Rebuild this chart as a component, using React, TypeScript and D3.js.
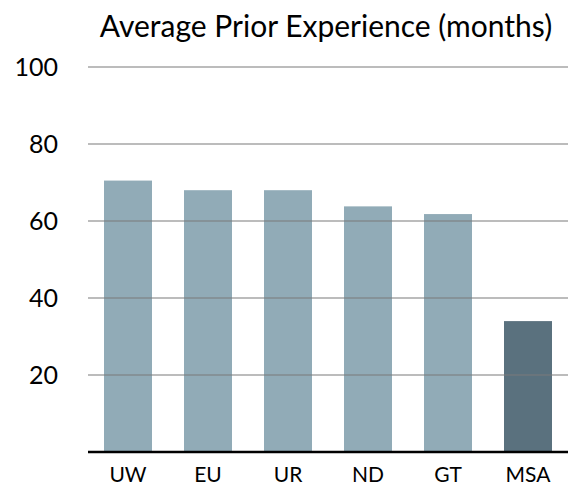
import { useEffect, useRef } from 'react';
import * as d3 from 'd3';

const categories = ['UW', 'EU', 'UR', 'ND', 'GT', 'MSA'];
const values = [70.5, 68, 68, 63.8, 61.8, 34];
const highlight = ['MSA'];
const yTicks = [20, 40, 60, 80, 100];

export default function App() {
  const svgRef = useRef<SVGSVGElement | null>(null);

  useEffect(() => {
    const el = svgRef.current;
    if (!el) return;
    const width = 568;
    const height = 489;
    const font = 'Lato, "Open Sans", sans-serif';

    const svg = d3.select(el);
    svg.selectAll('*').remove();

    const x = d3.scaleBand<string>()
      .domain(categories)
      .range([88, 568])
      .paddingInner(0.4)
      .paddingOuter(0.2);

    const y = d3.scaleLinear().domain([0, 100]).range([452, 67]);

    // Bars
    svg.append('g')
      .selectAll('rect')
      .data(categories)
      .join('rect')
      .attr('x', (d) => x(d)!)
      .attr('width', x.bandwidth())
      .attr('y', (d, i) => y(values[i]))
      .attr('height', (d, i) => y(0) - y(values[i]))
      .attr('fill', (d) => (highlight.includes(d) ? '#5a717e' : '#91abb7'));

    // Grid lines (on top, semi-transparent)
    svg.append('g')
      .selectAll('line')
      .data(yTicks)
      .join('line')
      .attr('x1', 88)
      .attr('x2', width)
      .attr('y1', (d) => y(d))
      .attr('y2', (d) => y(d))
      .attr('stroke', '#7a7a7a')
      .attr('stroke-opacity', 0.5)
      .attr('stroke-width', 2);

    // Y labels
    svg.append('g')
      .selectAll('text')
      .data(yTicks)
      .join('text')
      .attr('x', 58)
      .attr('y', (d) => y(d))
      .attr('dy', '0.35em')
      .attr('text-anchor', 'end')
      .attr('font-family', font)
      .attr('font-size', 25)
      .attr('fill', '#000')
      .text((d) => d);

    // Baseline
    svg.append('line')
      .attr('x1', 88)
      .attr('x2', width)
      .attr('y1', y(0))
      .attr('y2', y(0))
      .attr('stroke', '#000')
      .attr('stroke-width', 2.5);

    // X labels
    svg.append('g')
      .selectAll('text')
      .data(categories)
      .join('text')
      .attr('x', (d) => x(d)! + x.bandwidth() / 2)
      .attr('y', 482)
      .attr('text-anchor', 'middle')
      .attr('font-family', font)
      .attr('font-size', 21)
      .attr('fill', '#000')
      .text((d) => d);

    // Title
    svg.append('text')
      .attr('x', 326)
      .attr('y', 37)
      .attr('text-anchor', 'middle')
      .attr('font-family', font)
      .attr('font-size', 30)
      .attr('fill', '#000')
      .text('Average Prior Experience (months)');

    svg.attr('width', width).attr('height', height);
  }, []);

  return (
    <svg
      ref={svgRef}
      width={568}
      height={489}
      style={{ position: 'absolute', left: 0, top: 0, background: '#fff' }}
    />
  );
}
